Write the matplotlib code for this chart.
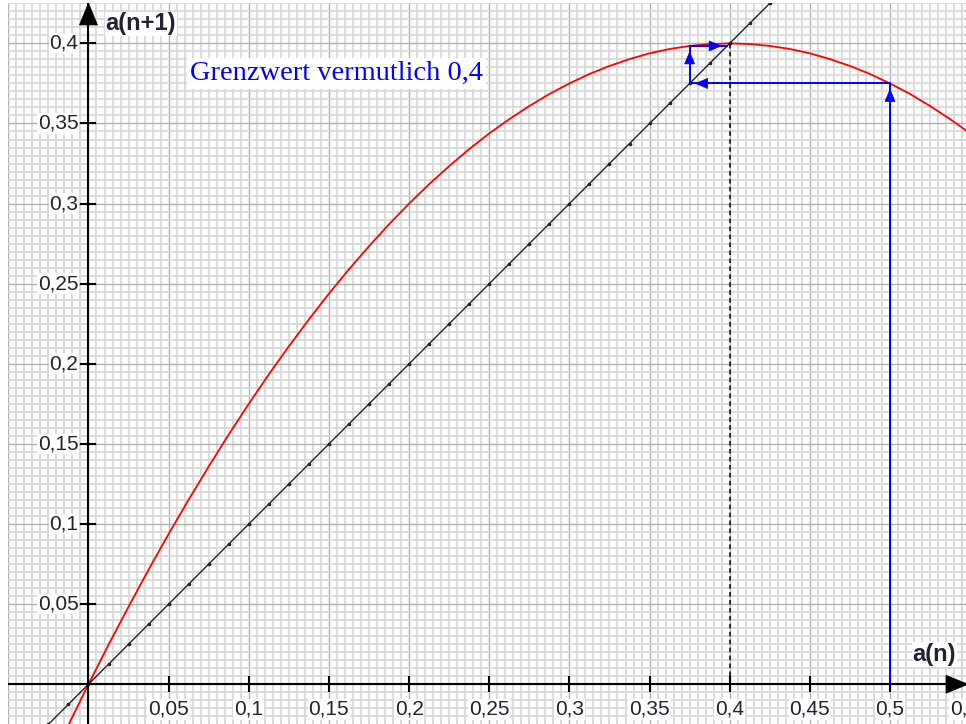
import numpy as np
import matplotlib; matplotlib.use('Agg')
import matplotlib.pyplot as plt
from matplotlib.patches import Polygon

# red curve a(n+1) over a(n)
x_curve = [-0.0125, 0.0, 0.0125, 0.025, 0.0375, 0.05, 0.0625, 0.075, 0.0875, 0.1, 0.1125, 0.125,
           0.1375, 0.15, 0.1625, 0.175, 0.1875, 0.2, 0.2125, 0.225, 0.2375, 0.25, 0.2625, 0.275,
           0.2875, 0.3, 0.3125, 0.325, 0.3375, 0.35, 0.3625, 0.375, 0.3875, 0.4, 0.4125, 0.425,
           0.4375, 0.45, 0.4625, 0.475, 0.4875, 0.5, 0.5125, 0.525, 0.5375, 0.55]
y_curve = [-0.0254, 0.0, 0.0246, 0.0484, 0.0715, 0.0938, 0.1152, 0.1359, 0.1559, 0.175, 0.1934, 0.2109,
           0.2277, 0.2438, 0.259, 0.2734, 0.2871, 0.3, 0.3121, 0.3234, 0.334, 0.3438, 0.3527, 0.3609,
           0.3684, 0.375, 0.3809, 0.3859, 0.3902, 0.3938, 0.3965, 0.3984, 0.3996, 0.4, 0.3996, 0.3984,
           0.3965, 0.3938, 0.3902, 0.3859, 0.3809, 0.375, 0.3684, 0.3609, 0.3527, 0.3438]
diag_x = [-0.05, 0.55]          # identity line a(n+1) = a(n)
cobweb = [0.5, 0.375, 0.3984]   # iterates a0, a1, a2
limit = 0.4
x_ticks = [0.05, 0.1, 0.15, 0.2, 0.25, 0.3, 0.35, 0.4, 0.45, 0.5, 0.55]
x_ticklabels = ['0,05', '0,1', '0,15', '0,2', '0,25', '0,3', '0,35', '0,4', '0,45', '0,5', '0,55']
y_ticks = [0.05, 0.1, 0.15, 0.2, 0.25, 0.3, 0.35, 0.4]
y_ticklabels = ['0,05', '0,1', '0,15', '0,2', '0,25', '0,3', '0,35', '0,4']

PX = 1/1603.0  # data units per pixel
XL = (-0.0502, 0.5474); YL = (-0.0248, 0.4252)
SANS = 'Liberation Sans'; TXT = '#222233'; BLUE = '#0000ff'

fig = plt.figure(figsize=(9.66, 7.24), dpi=100)
ax = fig.add_axes([8/966, 0, 958/966, 721/724])
for s in ax.spines.values(): s.set_visible(False)

# grid paper
ax.set_xticks(np.round(np.arange(-0.05, 0.551, 0.05), 4))
ax.set_yticks(np.round(np.arange(-0.05, 0.451, 0.05), 4))
ax.set_xticks(np.round(np.arange(-0.05, 0.551, 0.005), 4), minor=True)
ax.set_yticks(np.round(np.arange(-0.05, 0.451, 0.005), 4), minor=True)
ax.tick_params(which='both', length=0, labelbottom=False, labelleft=False)
ax.grid(which='minor', color='#d6d6d6', lw=1.2, zorder=0)
ax.grid(which='major', color='#b0b0b0', lw=1.0, zorder=0)
ax.set_axisbelow(True)
ax.set_xlim(*XL); ax.set_ylim(*YL)

# axes with arrows
ax.plot([XL[0], XL[1]], [0, 0], color='black', lw=1.5, zorder=3, solid_capstyle='butt')
ax.plot([0, 0], [YL[0], YL[1]], color='black', lw=1.5, zorder=3, solid_capstyle='butt')
def head(tip, d, L, W, color, z=4):
    tip = np.array(tip, float); d = np.array(d, float); p = np.array([-d[1], d[0]])
    base = tip - L*PX*d
    ax.add_patch(Polygon([tip, base + W/2*PX*p, base - W/2*PX*p], closed=True,
                         fc=color, ec=color, lw=0.5, zorder=z))
head((0, YL[1]), (0, 1), 22, 18, 'black')
head((XL[1] + 2*PX, 0), (1, 0), 22, 18, 'black')
for t in x_ticks:
    ax.plot([t, t], [-7*PX, 7*PX], color='black', lw=1.5, zorder=3)
for t in y_ticks:
    ax.plot([-7*PX, 7*PX], [t, t], color='black', lw=1.5, zorder=3)

# tick labels
bb = dict(fc='white', ec='none', pad=0.6)
for t, lab in zip(x_ticks, x_ticklabels):
    ax.text(t, -25*PX, lab, ha='center', va='center', fontsize=15, family=SANS, color=TXT, bbox=bb, zorder=5)
for t, lab in zip(y_ticks, y_ticklabels):
    ax.text(-10*PX, t, lab, ha='right', va='center', fontsize=15, family=SANS, color=TXT, bbox=bb, zorder=5)
ax.text(17*PX, YL[1] - 21*PX, 'a(n+1)', ha='left', va='center', fontsize=17, weight='bold',
        family=SANS, color=TXT, bbox=bb, zorder=5)
ax.text(XL[1] - 10*PX, 30*PX, 'a(n)', ha='right', va='center', fontsize=17, weight='bold',
        family=SANS, color=TXT, bbox=bb, zorder=5)

# curves
ax.plot(x_curve, y_curve, color='#ff0000', lw=1.3, zorder=2)
ax.plot(diag_x, diag_x, color='#222222', lw=1.0, zorder=2)
dots = np.arange(-0.05, 0.55, 0.0125)
ax.plot(dots, dots, ls='none', marker='o', ms=1.6, color='#222222', zorder=2)
ax.plot([limit, limit], [0, limit], color='black', lw=1.1, ls=(0, (3, 2.2)), zorder=2)

# cobweb
pts = [(cobweb[0], 0)]
for k in range(len(cobweb) - 1):
    pts.append((cobweb[k], cobweb[k+1]))
    pts.append((cobweb[k+1], cobweb[k+1]))
pts = np.array(pts)
ax.plot(pts[:, 0], pts[:, 1], color=BLUE, lw=1.4, zorder=3)
for a, b in zip(pts[:-1], pts[1:]):
    d = (b - a) / np.linalg.norm(b - a)
    head(b - 6*PX*d, d, 12, 10, BLUE)

ax.text(0.0633, 0.3771, 'Grenzwert vermutlich 0,4', ha='left', va='baseline', fontsize=20.5,
        family='Liberation Serif', color=BLUE, bbox=dict(fc='white', ec='none', pad=2), zorder=5)

fig.savefig('out.png', dpi=100)
